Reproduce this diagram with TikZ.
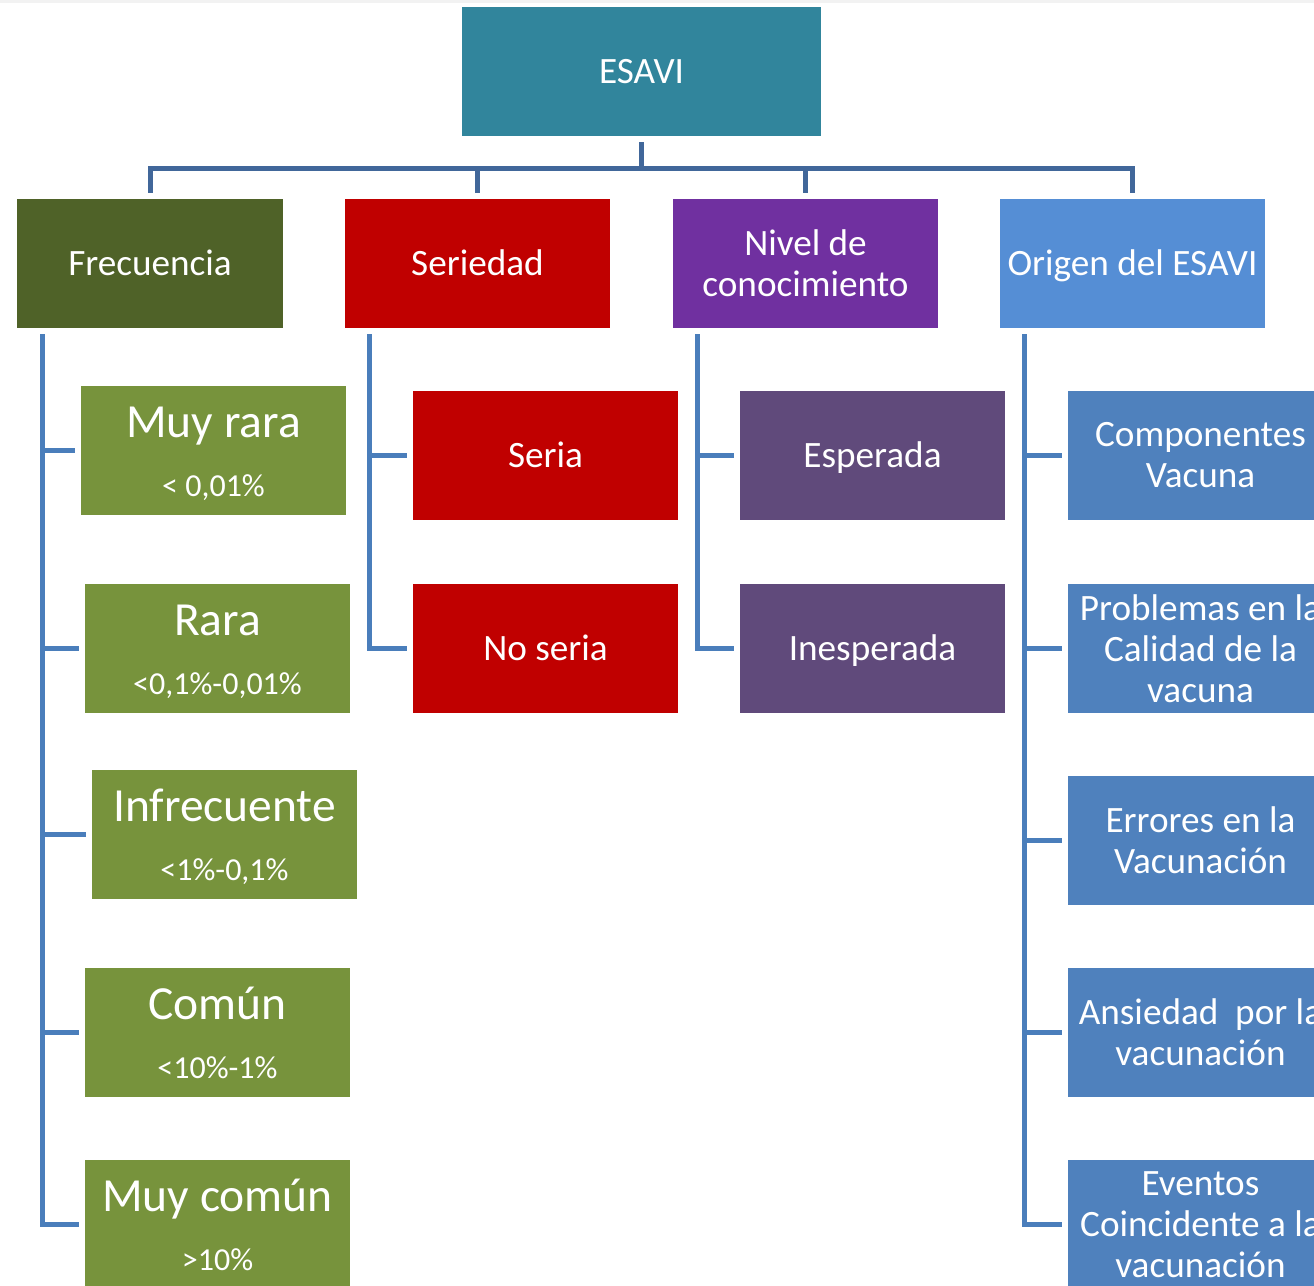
\documentclass[tikz,border=0pt]{standalone}
\usepackage{fontspec}
\setmainfont{Carlito}
\definecolor{cEsavi}{HTML}{31859C}
\definecolor{cFrec}{HTML}{4F6228}
\definecolor{cRed}{HTML}{C00000}
\definecolor{cNivel}{HTML}{7030A0}
\definecolor{cOrigen}{HTML}{558ED5}
\definecolor{cGreen}{HTML}{77933C}
\definecolor{cPurple}{HTML}{604A7B}
\definecolor{cBlue}{HTML}{4F81BD}
\definecolor{cTopLine}{HTML}{41679A}
\definecolor{cSubLine}{HTML}{4A7EBB}
\definecolor{cStrip}{HTML}{F2F2F2}
\begin{document}
\begin{tikzpicture}[x=1pt,y=-1pt,
  box/.style={rectangle, inner sep=0pt, outer sep=0pt, minimum width=265pt,
    minimum height=129pt, text=white, align=center,
    font=\fontsize{37.2}{41}\selectfont},
  oneline/.style={text height=23.5pt, text depth=0pt},
  gtitle/.style={anchor=base, inner sep=0pt, text=white, font=\fontsize{47.5}{50}\selectfont},
  gsub/.style={anchor=base, inner sep=0pt, text=white, font=\fontsize{32}{35}\selectfont},
  topline/.style={draw=cTopLine, line width=5pt},
  subline/.style={draw=cSubLine, line width=5pt}]
\useasboundingbox (0,0) rectangle (1314,1285);
\clip (0,0) rectangle (1314,1285);
\fill[cStrip] (0,0) rectangle (1314,3);

% top level
\node[box, oneline, fill=cEsavi, minimum width=359pt] (esavi) at (641.5,71.5) {ESAVI};
\node[box, oneline, fill=cFrec, minimum width=266pt] (frec) at (150,263.5) {Frecuencia};
\node[box, oneline, fill=cRed] (seri) at (477.5,263.5) {Seriedad};
\node[box, fill=cNivel] (nivel) at (805.5,263.5) {Nivel de\\conocimiento};
\node[box, oneline, fill=cOrigen] (origen) at (1132.5,263.5) {Origen del ESAVI};

% frecuencia children
\node[box, fill=cGreen] (muyrara) at (213.5,450.5) {};
\node[box, fill=cGreen] (rara) at (217.5,648.5) {};
\node[box, fill=cGreen] (infrec) at (224.5,834.5) {};
\node[box, fill=cGreen] (comun) at (217.5,1032.5) {};
\node[box, fill=cGreen] (muycomun) at (217.5,1224.5) {};
\foreach \n/\t/\s in {muyrara/Muy rara/< 0{,}01\%, rara/Rara/<0{,}1\%-0{,}01\%,
    infrec/Infrecuente/<1\%-0{,}1\%, comun/Común/<10\%-1\%, muycomun/Muy común/>10\%}{
  \node[gtitle] (\n T) at ([yshift=-51pt]\n.north) {\t};
  \node[gsub] (\n S) at ([yshift=-110pt]\n.north) {\s};
}

% seriedad children
\node[box, oneline, fill=cRed] (seria) at (545.5,455.5) {Seria};
\node[box, oneline, fill=cRed] (noseria) at (545.5,648.5) {No seria};

% nivel children
\node[box, oneline, fill=cPurple] (esperada) at (872.5,455.5) {Esperada};
\node[box, oneline, fill=cPurple] (inesperada) at (872.5,648.5) {Inesperada};

% origen children
\node[box, fill=cBlue] (comp) at (1200.5,455.5) {Componentes\\Vacuna};
\node[box, fill=cBlue] (prob) at (1200.5,648.5) {Problemas en la\\Calidad de la\\vacuna};
\node[box, fill=cBlue] (err) at (1200.5,840.5) {Errores en la\\Vacunación};
\node[box, fill=cBlue] (ans) at (1200.5,1032.5) {Ansiedad~\ por la\\vacunación};
\node[box, fill=cBlue] (evt) at (1200.5,1224.5) {Eventos\\Coincidente a la\\vacunación};

% top connectors
\coordinate (bus) at (641,168);
\draw[topline, shorten <=6pt] (esavi.south) -- (esavi.south |- bus);
\draw[topline, line cap=rect] (frec.north |- bus) -- (origen.north |- bus);
\foreach \n in {frec,seri,nivel,origen}
  \draw[topline, shorten >=6pt] (\n.north |- bus) -- (\n.north);

% spines
\coordinate (fsp) at ([xshift=25pt]frec.south west);
\coordinate (ssp) at ([xshift=24.5pt]seri.south west);
\coordinate (nsp) at ([xshift=24pt]nivel.south west);
\coordinate (osp) at ([xshift=24.5pt]origen.south west);

\draw[subline, shorten <=6pt, shorten >=6pt] (fsp) |- (muycomun.west);
\foreach \n in {muyrara,rara,infrec,comun}
  \draw[subline, shorten >=6pt] (\n.west -| fsp) -- (\n.west);

\draw[subline, shorten <=6pt, shorten >=6pt] (ssp) |- (noseria.west);
\draw[subline, shorten >=6pt] (seria.west -| ssp) -- (seria.west);

\draw[subline, shorten <=6pt, shorten >=6pt] (nsp) |- (inesperada.west);
\draw[subline, shorten >=6pt] (esperada.west -| nsp) -- (esperada.west);

\draw[subline, shorten <=6pt, shorten >=6pt] (osp) |- (evt.west);
\foreach \n in {comp,prob,err,ans}
  \draw[subline, shorten >=6pt] (\n.west -| osp) -- (\n.west);
\end{tikzpicture}
\end{document}
